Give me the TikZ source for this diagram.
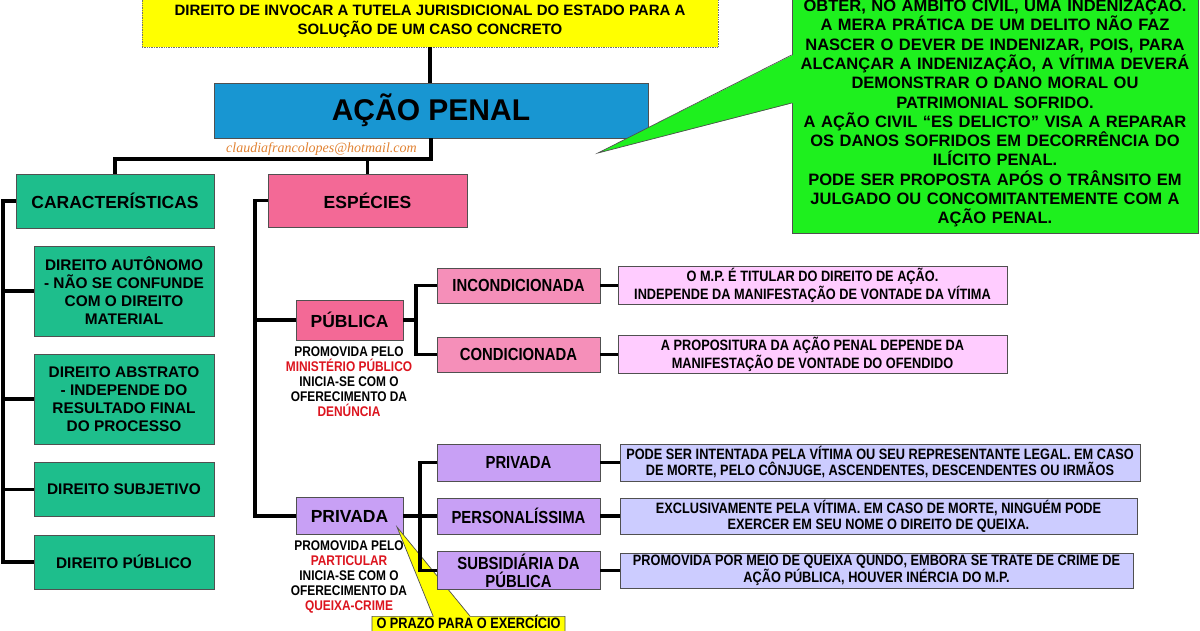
\documentclass[tikz,border=0pt]{standalone}
\usepackage{fontspec}
\setmainfont{Liberation Sans}
\newfontfamily\narrowfont[FakeStretch=0.85]{Liberation Sans}
\newfontfamily\mailfont{Liberation Serif}
\usetikzlibrary{calc, shapes.callouts}
\definecolor{tutelaY}{RGB}{255,255,0}
\definecolor{acaoBlue}{RGB}{24,150,210}
\definecolor{caracGreen}{RGB}{30,190,140}
\definecolor{especPink}{RGB}{243,105,150}
\definecolor{pubPink}{RGB}{245,143,185}
\definecolor{pubNote}{RGB}{255,204,255}
\definecolor{privViolet}{RGB}{200,160,245}
\definecolor{privNote}{RGB}{204,204,255}
\definecolor{civilGreen}{RGB}{30,240,30}
\definecolor{mailOrange}{RGB}{225,130,50}
\definecolor{noteRed}{RGB}{220,20,30}
\definecolor{edge}{RGB}{80,80,80}
\newcommand\fsz[2]{\fontsize{#1}{#2}\selectfont}

\begin{document}
\begin{tikzpicture}[x=1pt, y=-1pt,
        box/.style={rectangle, draw=edge, line width=0.7pt, inner sep=2pt, align=center, font=\bfseries\fsz{17.5}{20}},
        carbox/.style={box, fill=caracGreen, minimum width=180pt, font=\bfseries\fsz{15.4}{18}},
        kindbox/.style={box, minimum width=163pt, font=\narrowfont\bfseries\fsz{17.5}{18}},
        notebox/.style={box, font=\narrowfont\bfseries\fsz{15}{15.5}},
        caption/.style={align=center, inner sep=0pt, font=\narrowfont\bfseries\fsz{14}{15}},
        link/.style={line width=3.5pt, black}]
    \useasboundingbox (0,0) rectangle (1200,630);
    \clip (0,0) rectangle (1200,630);

    % topo
    \node[box, draw=black!55, densely dotted, fill=tutelaY, minimum width=576pt, minimum height=52pt, font=\bfseries\fsz{15}{19}] (tutela) at (430,21)
        {DIREITO DE INVOCAR A TUTELA JURISDICIONAL DO ESTADO PARA A\\SOLUÇÃO DE UM CASO CONCRETO};
    \node[box, fill=acaoBlue, minimum width=434pt, minimum height=55pt, font=\bfseries\fsz{30}{32}] (acao) at (431,110.5) {AÇÃO PENAL};
    \node[text=mailOrange, inner sep=0pt, font=\mailfont\itshape\fsz{14}{16}] (mail) at (321.5,149) {claudiafrancolopes@hotmail.com};

    % caracteristicas
    \node[box, fill=caracGreen, minimum width=198pt, minimum height=54pt] (carac) at (115,201) {CARACTERÍSTICAS};
    \node[carbox, minimum height=90pt] (autonomo) at (124,291) {DIREITO AUTÔNOMO\\- NÃO SE CONFUNDE\\COM O DIREITO\\MATERIAL};
    \node[carbox, minimum height=90pt] (abstrato) at (124,399) {DIREITO ABSTRATO\\- INDEPENDE DO\\RESULTADO FINAL\\DO PROCESSO};
    \node[carbox, minimum height=54pt] (subjetivo) at (124,489.5) {DIREITO SUBJETIVO};
    \node[carbox, minimum height=54pt] (dpublico) at (124,562) {DIREITO PÚBLICO};

    % especies
    \node[box, fill=especPink, minimum width=199pt, minimum height=53pt] (especies) at (367.5,200.5) {ESPÉCIES};
    \node[box, fill=especPink, minimum width=107pt, minimum height=40pt] (publica) at (349.5,320) {PÚBLICA};
    \node[caption] (pubtxt) at (349,382) {PROMOVIDA PELO\\\textcolor{noteRed}{MINISTÉRIO PÚBLICO}\\INICIA-SE COM O\\OFERECIMENTO DA\\\textcolor{noteRed}{DENÚNCIA}};
    \node[kindbox, fill=pubPink, minimum height=35pt] (incond) at (518.5,285.5) {INCONDICIONADA};
    \node[kindbox, fill=pubPink, minimum height=35pt] (cond) at (518.5,354.5) {CONDICIONADA};
    \node[notebox, fill=pubNote, minimum width=389pt, minimum height=35pt] (incondtxt) at (812.5,285.5)
        {O M.P. É TITULAR DO DIREITO DE AÇÃO.\\INDEPENDE DA MANIFESTAÇÃO DE VONTADE DA VÍTIMA};
    \node[notebox, fill=pubNote, minimum width=389pt, minimum height=35pt] (condtxt) at (812.5,354.5)
        {A PROPOSITURA DA AÇÃO PENAL DEPENDE DA\\MANIFESTAÇÃO DE VONTADE DO OFENDIDO};

    \node[box, fill=privViolet, minimum width=107pt, minimum height=37pt] (privada) at (349.5,516) {PRIVADA};
    \node[caption] (privtxt) at (349,577) {PROMOVIDA PELO\\\textcolor{noteRed}{PARTICULAR}\\INICIA-SE COM O\\OFERECIMENTO DA\\\textcolor{noteRed}{QUEIXA-CRIME}};
    \node[rectangle callout, draw=edge, line width=0.7pt, fill=tutelaY, callout absolute pointer={(397,527)}, callout pointer width=37pt,
          anchor=north, minimum width=193pt, text height=9pt, text depth=40pt, inner ysep=3pt,
          font=\narrowfont\bfseries\fsz{15}{17}] (prazo) at (468.5,616) {O PRAZO PARA O EXERCÍCIO};
    \node[kindbox, fill=privViolet, minimum height=37pt] (privsub) at (518.5,462.5) {PRIVADA};
    \node[kindbox, fill=privViolet, minimum height=36pt] (personal) at (518.5,516) {PERSONALÍSSIMA};
    \node[kindbox, fill=privViolet, minimum height=35pt] (subsid) at (518.5,570.5) {SUBSIDIÁRIA DA\\PÚBLICA};
    \node[notebox, fill=privNote, minimum width=520pt, minimum height=37pt, font=\narrowfont\bfseries\fsz{15}{16}] (privsubtxt) at (880,462.5)
        {PODE SER INTENTADA PELA VÍTIMA OU SEU REPRESENTANTE LEGAL. EM CASO\\DE MORTE, PELO CÔNJUGE, ASCENDENTES, DESCENDENTES OU IRMÃOS};
    \node[notebox, fill=privNote, minimum width=517pt, minimum height=36pt, font=\narrowfont\bfseries\fsz{15}{16}] (personaltxt) at (878.5,516)
        {EXCLUSIVAMENTE PELA VÍTIMA. EM CASO DE MORTE, NINGUÉM PODE\\EXERCER EM SEU NOME O DIREITO DE QUEIXA.};
    \node[notebox, fill=privNote, minimum width=513pt, minimum height=35pt, font=\narrowfont\bfseries\fsz{15}{16}] (subsidtxt) at (876.5,570.5)
        {PROMOVIDA POR MEIO DE QUEIXA QUNDO, EMBORA SE TRATE DE CRIME DE\\AÇÃO PÚBLICA, HOUVER INÉRCIA DO M.P.};

    % acao civil
    \node[box, fill=civilGreen, minimum width=406pt, minimum height=242pt, text width=400pt, font=\bfseries\fsz{16.5}{19.3}] (civil) at (995,112)
        {OBTER, NO ÂMBITO CIVIL, UMA INDENIZAÇÃO.\\A MERA PRÁTICA DE UM DELITO NÃO FAZ\\NASCER O DEVER DE INDENIZAR, POIS, PARA\\ALCANÇAR A INDENIZAÇÃO, A VÍTIMA DEVERÁ\\DEMONSTRAR O DANO MORAL OU\\PATRIMONIAL SOFRIDO.\\A AÇÃO CIVIL “ES DELICTO” VISA A REPARAR\\OS DANOS SOFRIDOS EM DECORRÊNCIA DO\\ILÍCITO PENAL.\\PODE SER PROPOSTA APÓS O TRÂNSITO EM\\JULGADO OU CONCOMITANTEMENTE COM A\\AÇÃO PENAL.};
    \coordinate (tip) at (598,153);
    \fill[civilGreen] ($(civil.west)+(1.2,-57)$) -- (tip) -- ($(civil.west)+(1.2,-9)$) -- cycle;
    \draw[edge, line width=0.7pt] ($(civil.west)+(0,-57)$) -- (tip) -- ($(civil.west)+(0,-9)$);

    % ligacoes
    \coordinate (ramoL) at (3,0);
    \coordinate (ramoE) at (255,0);
    \coordinate (ramoP) at (416,0);
    \coordinate (ramoQ) at (420,0);
    \coordinate (junta) at (0,159);
    \draw[link] (tutela.south) -- (tutela.south |- acao.north);
    \draw[link] (acao.south) -- (acao.south |- junta) -| (carac.north);
    \draw[link] (acao.south |- junta) -| (especies.north);
    \draw[link] (carac.west) -- (carac.west -| ramoL) |- (dpublico.west);
    \foreach \k in {autonomo, abstrato, subjetivo}
        \draw[link] (\k.west -| ramoL) -- (\k.west);
    \draw[link] (especies.west) -- (especies.west -| ramoE) |- (privada.west);
    \draw[link] (publica.west -| ramoE) -- (publica.west);
    \draw[link] (publica.east) -- (publica.east -| ramoP);
    \draw[link] (incond.west) -- (incond.west -| ramoP) |- (cond.west);
    \draw[link] (privada.east) -- (personal.west);
    \draw[link] (privsub.west) -- (privsub.west -| ramoQ) |- (subsid.west);
    \foreach \a/\b in {incond/incondtxt, cond/condtxt, privsub/privsubtxt, personal/personaltxt, subsid/subsidtxt}
        \draw[link] (\a) -- (\b);
\end{tikzpicture}
\end{document}
